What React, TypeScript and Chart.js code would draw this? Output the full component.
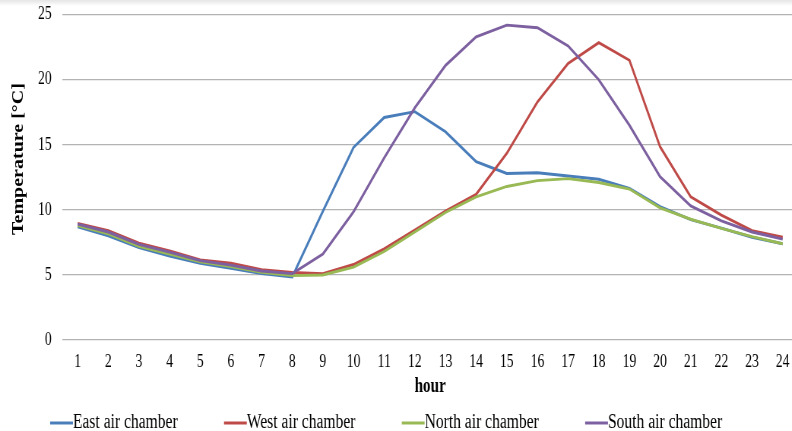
import React, { useEffect, useRef } from "react";
import { Chart, registerables } from "chart.js";

Chart.register(...registerables);

// ---- data ----
const hours = ["1", "2", "3", "4", "5", "6", "7", "8", "9", "10", "11", "12", "13", "14", "15", "16", "17", "18", "19", "20", "21", "22", "23", "24"];
const eastAirChamber = [8.7, 8.0, 7.1, 6.45, 5.9, 5.5, 5.1, 4.85, 9.9, 14.8, 17.1, 17.55, 16.0, 13.7, 12.8, 12.85, 12.6, 12.35, 11.65, 10.25, 9.25, 8.6, 7.9, 7.4];
const westAirChamber = [8.95, 8.4, 7.45, 6.85, 6.15, 5.9, 5.4, 5.2, 5.1, 5.8, 7.0, 8.45, 9.9, 11.2, 14.35, 18.3, 21.25, 22.85, 21.5, 14.85, 11.0, 9.6, 8.4, 7.9];
const northAirChamber = [8.8, 8.15, 7.2, 6.6, 6.0, 5.65, 5.2, 4.95, 5.0, 5.6, 6.8, 8.3, 9.8, 11.0, 11.8, 12.25, 12.4, 12.1, 11.6, 10.15, 9.28, 8.58, 7.94, 7.4];
const southAirChamber = [8.9, 8.3, 7.35, 6.75, 6.1, 5.75, 5.3, 5.1, 6.6, 9.85, 14.0, 17.85, 21.1, 23.3, 24.2, 24.0, 22.6, 20.0, 16.5, 12.55, 10.3, 9.15, 8.3, 7.75];
const seriesNames = ["East air chamber", "West air chamber", "North air chamber", "South air chamber"];
const seriesColors = ["#4A7EBB", "#BE4B48", "#98B954", "#7D60A0"];
const yMin = 0;
const yMax = 25;
const yStep = 5;
const xTitle = "hour";
const yTitle = "Temperature [°C]";

// ---- layout (canvas is drawn wide, then squeezed horizontally) ----
const SQUEEZE = 0.76;
const CANVAS_W = 1050;
const CANVAS_H = 431;
const FONT = "'Liberation Serif', 'Times New Roman', serif";

export default function App() {
  const ref = useRef<HTMLCanvasElement | null>(null);

  useEffect(() => {
    const canvas = ref.current;
    if (!canvas) return;

    const extrasPlugin = {
      id: "extras",
      afterDraw(chart: any) {
        const ctx = chart.ctx as CanvasRenderingContext2D;
        // y axis title
        ctx.save();
        ctx.font = `bold 20px ${FONT}`;
        ctx.fillStyle = "#000";
        ctx.translate(24.5, 159);
        ctx.rotate(-Math.PI / 2);
        ctx.textAlign = "center";
        ctx.textBaseline = "middle";
        ctx.fillText(yTitle, 0, 0);
        ctx.restore();

        // legend
        ctx.save();
        ctx.font = `20.5px ${FONT}`;
        ctx.textBaseline = "middle";
        ctx.textAlign = "left";
        let x = 66;
        const y = 422.5;
        chart.data.datasets.forEach((ds: any) => {
          ctx.strokeStyle = ds.borderColor;
          ctx.lineWidth = 3;
          ctx.beginPath();
          ctx.moveTo(x, y + 0.5);
          ctx.lineTo(x + 30, y + 0.5);
          ctx.stroke();
          x += 30;
          ctx.fillStyle = "#000";
          ctx.fillText(ds.label, x, y);
          x += ctx.measureText(ds.label).width + 61;
        });
        ctx.restore();
      },
    };

    const series = [eastAirChamber, westAirChamber, northAirChamber, southAirChamber];
    const chart = new Chart(canvas, {
      type: "line",
      data: {
        labels: hours,
        datasets: series.map((values, i) => ({
          label: seriesNames[i],
          data: values,
          borderColor: seriesColors[i],
          backgroundColor: seriesColors[i],
          borderWidth: 2.9,
          pointRadius: 0,
          tension: 0,
          fill: false,
          order: series.length - i,
        })),
      },
      options: {
        responsive: false,
        animation: false,
        devicePixelRatio: 1,
        layout: { padding: { top: 14.7, right: 0, bottom: 0, left: 0 } },
        plugins: {
          legend: { display: false },
          tooltip: { enabled: false },
        },
        scales: {
          x: {
            offset: true,
            grid: { display: false, drawTicks: false },
            border: { display: false },
            ticks: {
              color: "#000",
              font: { family: FONT, size: 18 },
              padding: 11,
              maxRotation: 0,
              autoSkip: false,
            },
            title: {
              display: true,
              text: xTitle,
              color: "#000",
              font: { family: FONT, size: 20, weight: "bold" },
              padding: { top: 0, bottom: 32 },
            },
            afterFit: (s: any) => {
              s.height = 91;
              s.paddingLeft = 0;
              s.paddingRight = 0;
            },
          },
          y: {
            min: yMin,
            max: yMax,
            ticks: {
              stepSize: yStep,
              color: "#000",
              font: { family: FONT, size: 18 },
              padding: 14,
            },
            grid: { color: "#b3b3b3", lineWidth: 1.3, drawTicks: false },
            border: { display: false },
            afterFit: (s: any) => {
              s.width = 82;
              s.paddingTop = 0;
              s.paddingBottom = 0;
            },
          },
        },
      },
      plugins: [extrasPlugin],
    } as any);

    return () => chart.destroy();
  }, []);

  return (
    <div
      style={{
        position: "absolute",
        left: 0,
        top: 0,
        width: 792,
        height: 431,
        overflow: "hidden",
        background: "#fff",
      }}
    >
      <canvas
        ref={ref}
        width={CANVAS_W}
        height={CANVAS_H}
        style={{ display: "block", width: `${CANVAS_W * SQUEEZE}px`, height: `${CANVAS_H}px` }}
      />
      <div
        style={{
          position: "absolute",
          left: 0,
          top: 0,
          width: "100%",
          height: 6,
          background: "linear-gradient(rgba(0,0,0,0.10), rgba(0,0,0,0))",
          pointerEvents: "none",
        }}
      />
    </div>
  );
}
